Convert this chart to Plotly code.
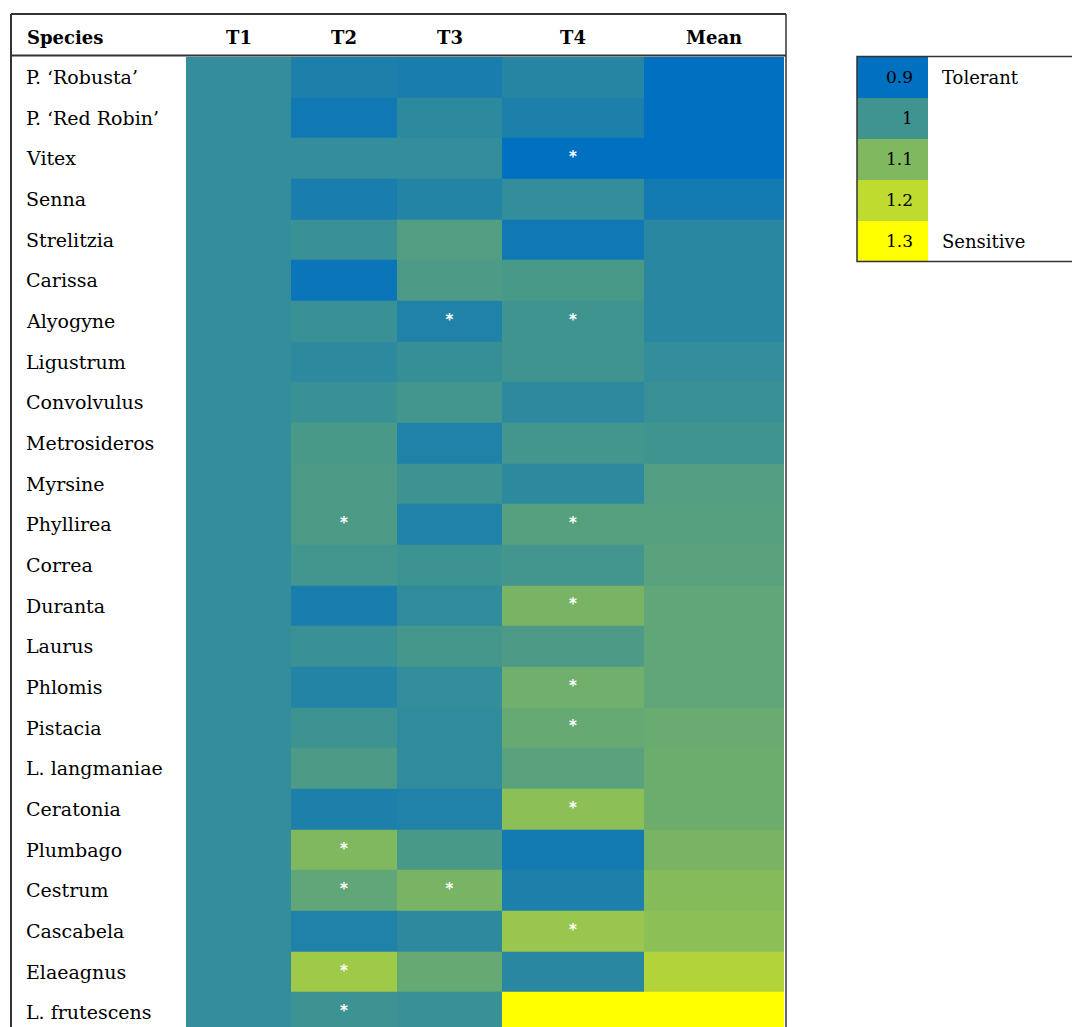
import plotly.graph_objects as go

# ---- data -------------------------------------------------------------
species = [
    "P. ‘Robusta’", "P. ‘Red Robin’", "Vitex", "Senna", "Strelitzia", "Carissa",
    "Alyogyne", "Ligustrum", "Convolvulus", "Metrosideros", "Myrsine", "Phyllirea",
    "Correa", "Duranta", "Laurus", "Phlomis", "Pistacia", "L. langmaniae",
    "Ceratonia", "Plumbago", "Cestrum", "Cascabela", "Elaeagnus", "L. frutescens",
]
columns = ["T1", "T2", "T3", "T4", "Mean"]

t1 = [0.98] * 24
t2 = [0.945, 0.925, 0.98, 0.94, 0.99, 0.915, 0.99, 0.97, 0.99, 1.015, 1.02, 1.02,
      1.005, 0.94, 0.99, 0.955, 0.995, 1.02, 0.945, 1.10, 1.05, 0.95, 1.15, 0.995]
t3 = [0.94, 0.97, 0.98, 0.955, 1.03, 1.02, 0.95, 0.985, 1.005, 0.95, 0.995, 0.95,
      0.995, 0.975, 1.01, 0.98, 0.975, 0.975, 0.95, 1.015, 1.09, 0.97, 1.06, 0.99]
t4 = [0.96, 0.945, 0.90, 0.98, 0.925, 1.015, 1.0, 1.0, 0.97, 1.005, 0.97, 1.035,
      1.005, 1.09, 1.02, 1.075, 1.06, 1.04, 1.12, 0.93, 0.945, 1.14, 0.965, 1.30]
mean = [0.90, 0.90, 0.90, 0.93, 0.965, 0.965, 0.965, 0.98, 0.99, 1.0, 1.03, 1.035,
        1.04, 1.05, 1.05, 1.05, 1.065, 1.07, 1.07, 1.09, 1.11, 1.12, 1.18, 1.30]

# cells flagged with an asterisk (column -> species)
flagged = {
    "T2": ["Phyllirea", "Plumbago", "Cestrum", "Elaeagnus", "L. frutescens"],
    "T3": ["Alyogyne", "Cestrum"],
    "T4": ["Vitex", "Alyogyne", "Phyllirea", "Duranta", "Phlomis", "Pistacia",
           "Ceratonia", "Cascabela"],
}

legend_values = [0.9, 1.0, 1.1, 1.2, 1.3]
legend_tick_text = ["0.9", "1", "1.1", "1.2", "1.3"]
legend_notes = ["Tolerant", "", "", "", "Sensitive"]

# ---- layout constants (pixels) ----------------------------------------
W, H = 1072, 1027
COL_EDGES = [186, 291, 397, 502, 644, 784]
COL_CENTERS = [(a + b) / 2 for a, b in zip(COL_EDGES[:-1], COL_EDGES[1:])]
ROW_TOP = 56.7
ROW_H = 40.67
TABLE_L, TABLE_R, TABLE_T, HEADER_B = 11, 786, 14, 55.5
LEG_L, LEG_SPLIT, LEG_T, LEG_B = 857, 928, 56.5, 261.5

FONT = "DejaVu Serif"
SCALE = [[0.0, "#0070C0"], [1.0, "#FFFF00"]]
ZMIN, ZMAX = 0.9, 1.3


def py(px):
    """pixel row (from top) -> paper y"""
    return 1 - px / H


z = [[t1[i], t2[i], t3[i], t4[i], mean[i]] for i in range(len(species))]

fig = go.Figure()

fig.add_trace(go.Heatmap(
    z=z, x=COL_EDGES, y=species,
    colorscale=SCALE, zmin=ZMIN, zmax=ZMAX, showscale=False,
    xaxis="x", yaxis="y",
    hovertemplate="%{y}<br>%{z:.3f}<extra></extra>",
))

# asterisks
ax, ay = [], []
for col, names in flagged.items():
    xc = COL_CENTERS[columns.index(col)]
    for n in names:
        ax.append(xc)
        ay.append(n)
fig.add_trace(go.Scatter(
    x=ax, y=ay, mode="text", text=["<b>*</b>"] * len(ax),
    textfont=dict(family="DejaVu Sans", size=15, color="white"),
    textposition="middle center", hoverinfo="skip", showlegend=False,
    xaxis="x", yaxis="y",
))

# legend colour key (one row per step, index 0 at the top)
leg_idx = list(range(len(legend_values)))
fig.add_trace(go.Heatmap(
    z=[[v] for v in legend_values], x=[LEG_L, LEG_SPLIT], y=leg_idx,
    colorscale=SCALE, zmin=ZMIN, zmax=ZMAX, showscale=False,
    xaxis="x", yaxis="y2", hoverinfo="skip",
))

bottom_index = (H - ROW_TOP) / ROW_H - 0.5

fig.update_layout(
    width=W, height=H,
    margin=dict(l=0, r=0, t=0, b=0),
    paper_bgcolor="white", plot_bgcolor="rgba(0,0,0,0)",
    showlegend=False,
    xaxis=dict(range=[0, W], domain=[0, 1], visible=False, fixedrange=True),
    yaxis=dict(type="category", categoryarray=species, range=[bottom_index, -0.5],
               domain=[0, py(ROW_TOP)], visible=False, fixedrange=True),
    yaxis2=dict(type="linear", range=[len(leg_idx) - 0.5, -0.5],
                domain=[py(LEG_B), py(LEG_T)], visible=False, fixedrange=True,
                anchor="x"),
)

ann = []
# header
ann.append(dict(x=25, y=py(37), xref="x", yref="paper", text="<b>Species</b>",
                showarrow=False, xanchor="left", yanchor="middle",
                font=dict(family=FONT, size=18, color="black")))
for c, xc in zip(columns, COL_CENTERS):
    ann.append(dict(x=xc, y=py(37), xref="x", yref="paper", text=f"<b>{c}</b>",
                    showarrow=False, xanchor="center", yanchor="middle",
                    font=dict(family=FONT, size=18, color="black")))
# species names
for s in species:
    ann.append(dict(x=24, y=s, xref="x", yref="y", text=s, showarrow=False,
                    xanchor="left", yanchor="middle",
                    font=dict(family=FONT, size=19, color="black")))
# legend labels
for i, (t, note) in enumerate(zip(legend_tick_text, legend_notes)):
    ann.append(dict(x=915, y=i, xref="x", yref="y2", text=t, showarrow=False,
                    xanchor="right", yanchor="middle",
                    font=dict(family=FONT, size=17, color="black")))
    if note:
        ann.append(dict(x=940, y=i, xref="x", yref="y2", text=note,
                        showarrow=False, xanchor="left", yanchor="middle",
                        font=dict(family=FONT, size=18, color="black")))
fig.update_layout(annotations=ann)

line = dict(color="#333333", width=2)
shapes = [
    # table frame
    dict(type="line", xref="x", yref="paper", x0=TABLE_L, x1=TABLE_R,
         y0=py(TABLE_T), y1=py(TABLE_T), line=line),
    dict(type="line", xref="x", yref="paper", x0=TABLE_L, x1=TABLE_R,
         y0=py(HEADER_B), y1=py(HEADER_B), line=line),
    dict(type="line", xref="x", yref="paper", x0=TABLE_L, x1=TABLE_L,
         y0=py(TABLE_T), y1=-0.01, line=line),
    dict(type="line", xref="x", yref="paper", x0=TABLE_R, x1=TABLE_R,
         y0=py(TABLE_T), y1=-0.01, line=dict(color="#333333", width=1.5)),
    # legend frame
    dict(type="rect", xref="x", yref="paper", x0=LEG_L, x1=W + 10,
         y0=py(LEG_B), y1=py(LEG_T), line=dict(color="#333333", width=1.5)),
]
fig.update_layout(shapes=shapes)

fig.write_html("out.html")
